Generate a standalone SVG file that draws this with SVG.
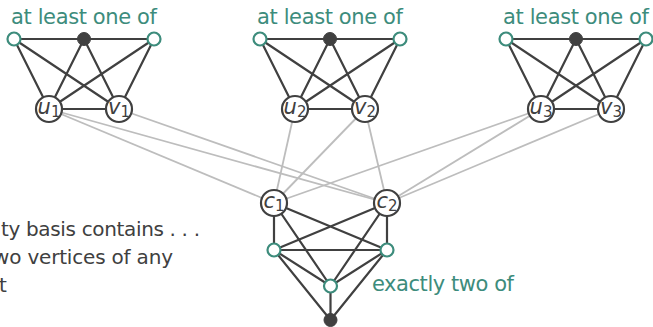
<svg xmlns="http://www.w3.org/2000/svg" width="653" height="327" viewBox="0 0 653 327">
  <style>
    .edge { stroke: #404040; stroke-width: 2.2; fill: none; }
    .link { stroke: #bdbdbd; stroke-width: 1.8; fill: none; }
    .open { fill: #ffffff; stroke: #3d8c7c; stroke-width: 2.2; }
    .full { fill: #404040; stroke: #404040; stroke-width: 1; }
    .var { fill: #ffffff; stroke: #404040; stroke-width: 2.2; }
    .cap { font-family: "DejaVu Sans", "Liberation Sans", sans-serif; font-size: 21px; fill: #3d8c7c; }
    .note { font-family: "DejaVu Sans", "Liberation Sans", sans-serif; font-size: 20px; fill: #404040; }
    .lab { font-family: "DejaVu Sans", "Liberation Sans", sans-serif; font-size: 21px; font-style: italic; fill: #404040; text-anchor: middle; }
    .sub { font-size: 15px; font-style: normal; }
  </style>

  <!-- captions -->
  <text class="cap" x="84" y="24" text-anchor="middle" textLength="146">at least one of</text>
  <text class="cap" x="330" y="24" text-anchor="middle" textLength="146">at least one of</text>
  <text class="cap" x="576" y="24" text-anchor="middle" textLength="146">at least one of</text>
  <text class="cap" x="372" y="291" textLength="142">exactly two of</text>

  <text class="note" x="1" y="236" textLength="199">ty basis contains . . .</text>
  <text class="note" x="-7" y="264" textLength="180">wo vertices of any</text>
  <text class="note" x="-1" y="292">t</text>

  <g id="connectors">
    <!-- variable gadgets to clause vertices -->
    <line class="link" x1="49" y1="109" x2="274" y2="203"/>
    <line class="link" x1="49" y1="109" x2="387" y2="203"/>
    <line class="link" x1="119" y1="109" x2="387" y2="203"/>
    <line class="link" x1="295" y1="109" x2="274" y2="203"/>
    <line class="link" x1="365" y1="109" x2="274" y2="203"/>
    <line class="link" x1="365" y1="109" x2="387" y2="203"/>
    <line class="link" x1="541" y1="109" x2="274" y2="203"/>
    <line class="link" x1="541" y1="109" x2="387" y2="203"/>
    <line class="link" x1="611" y1="109" x2="387" y2="203"/>

    <!-- gadget 1 -->
    <path class="edge" d="M14 39H154M49 109H119M14 39L49 109M14 39L119 109M84 39L49 109M84 39L119 109M154 39L49 109M154 39L119 109"/>
    <!-- gadget 2 -->
    <path class="edge" d="M260 39H400M295 109H365M260 39L295 109M260 39L365 109M330 39L295 109M330 39L365 109M400 39L295 109M400 39L365 109"/>
    <!-- gadget 3 -->
    <path class="edge" d="M506 39H646M541 109H611M506 39L541 109M506 39L611 109M576 39L541 109M576 39L611 109M646 39L541 109M646 39L611 109"/>
    <!-- clause gadget -->
    <path class="edge" d="M274 203L274 250M274 203L387 250M274 203L330.5 286M387 203L274 250M387 203L387 250M387 203L330.5 286M274 250H387M274 250L330.5 286M387 250L330.5 286M274 250L330.5 320M387 250L330.5 320M330.5 286V320"/>
  </g>

  <!-- gadget 1 nodes -->
  <g id="a1"><circle class="open" cx="14" cy="39" r="6.5"/></g>
  <g id="d1"><circle class="full" cx="84" cy="39" r="6.5"/></g>
  <g id="b1"><circle class="open" cx="154" cy="39" r="6.5"/></g>
  <g id="u1"><circle class="var" cx="49" cy="109" r="13"/><text class="lab" x="49" y="114">u<tspan class="sub" dy="3">1</tspan></text></g>
  <g id="v1"><circle class="var" cx="119" cy="109" r="13"/><text class="lab" x="119" y="114">v<tspan class="sub" dy="3">1</tspan></text></g>

  <!-- gadget 2 nodes -->
  <g id="a2"><circle class="open" cx="260" cy="39" r="6.5"/></g>
  <g id="d2"><circle class="full" cx="330" cy="39" r="6.5"/></g>
  <g id="b2"><circle class="open" cx="400" cy="39" r="6.5"/></g>
  <g id="u2"><circle class="var" cx="295" cy="109" r="13"/><text class="lab" x="295" y="114">u<tspan class="sub" dy="3">2</tspan></text></g>
  <g id="v2"><circle class="var" cx="365" cy="109" r="13"/><text class="lab" x="365" y="114">v<tspan class="sub" dy="3">2</tspan></text></g>

  <!-- gadget 3 nodes -->
  <g id="a3"><circle class="open" cx="506" cy="39" r="6.5"/></g>
  <g id="d3"><circle class="full" cx="576" cy="39" r="6.5"/></g>
  <g id="b3"><circle class="open" cx="646" cy="39" r="6.5"/></g>
  <g id="u3"><circle class="var" cx="541" cy="109" r="13"/><text class="lab" x="541" y="114">u<tspan class="sub" dy="3">3</tspan></text></g>
  <g id="v3"><circle class="var" cx="611" cy="109" r="13"/><text class="lab" x="611" y="114">v<tspan class="sub" dy="3">3</tspan></text></g>

  <!-- clause gadget nodes -->
  <g id="c1"><circle class="var" cx="274" cy="203" r="13"/><text class="lab" x="274" y="208">c<tspan class="sub" dy="3">1</tspan></text></g>
  <g id="c2"><circle class="var" cx="387" cy="203" r="13"/><text class="lab" x="387" y="208">c<tspan class="sub" dy="3">2</tspan></text></g>
  <g id="x1"><circle class="open" cx="274" cy="250" r="6.5"/></g>
  <g id="x2"><circle class="open" cx="387" cy="250" r="6.5"/></g>
  <g id="x3"><circle class="open" cx="330.5" cy="286" r="6.5"/></g>
  <g id="x4"><circle class="full" cx="330.5" cy="320" r="6.5"/></g>
</svg>
